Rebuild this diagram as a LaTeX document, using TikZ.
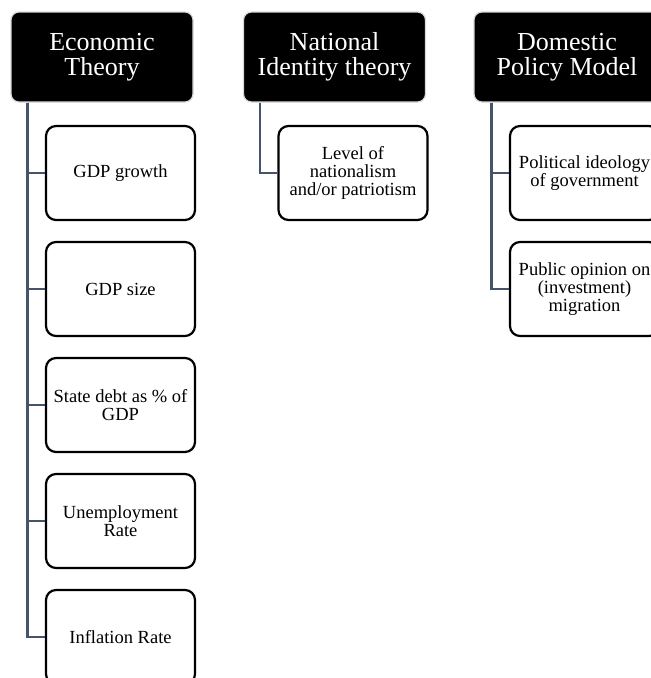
\documentclass[tikz,border=0pt]{standalone}
\usepackage{fontspec}
\setmainfont{Liberation Serif}
\definecolor{slate}{HTML}{44546A}
\definecolor{headborder}{HTML}{D9D9D9}
\begin{document}
\begin{tikzpicture}[x=1pt,y=-1pt]
\useasboundingbox (0,0) rectangle (651,678);
\tikzset{
  head/.style={draw=headborder, line width=1.2pt, fill=black, text=white, rounded corners=8pt,
    minimum width=182pt, minimum height=90pt, align=center, inner sep=0pt,
    font=\fontsize{26}{25}\selectfont},
  item/.style={draw=black, line width=2.2pt, fill=white, rounded corners=10pt,
    minimum width=149pt, minimum height=94pt, align=center, inner sep=0pt,
    font=\fontsize{18.5}{18.3}\selectfont},
  conn/.style={draw=slate, line width=2.6pt}
}
% headers
\node[head] (h1) at (102,57) {Economic\\Theory};
\node[head] (h2) at (334.5,57) {National\\Identity theory};
\node[head, minimum width=186pt] (h3) at (567,57) {Domestic\\Policy Model};
% column 1
\node[item] (a1) at (120.5,173) {GDP growth};
\node[item] (a2) at (120.5,289) {GDP size};
\node[item] (a3) at (120.5,405) {State debt as \% of\\GDP};
\node[item] (a4) at (120.5,521) {Unemployment\\Rate};
\node[item] (a5) at (120.5,637) {Inflation Rate};
% column 2
\node[item] (b1) at (353,173) {Level of\\nationalism\\and/or patriotism};
% column 3
\node[item] (c1) at (584.5,173) {Political ideology\\of government};
\node[item] (c2) at (584.5,289) {Public opinion on\\(investment)\\migration};
% connectors
\coordinate (s1) at ([xshift=17pt]h1.south west);
\coordinate (s2) at ([xshift=17pt]h2.south west);
\coordinate (s3) at ([xshift=18pt]h3.south west);
\foreach \n in {a1,a2,a3,a4,a5} \draw[conn] (s1) |- (\n.west);
\draw[conn] (s2) |- (b1.west);
\foreach \n in {c1,c2} \draw[conn] (s3) |- (\n.west);
\end{tikzpicture}
\end{document}
